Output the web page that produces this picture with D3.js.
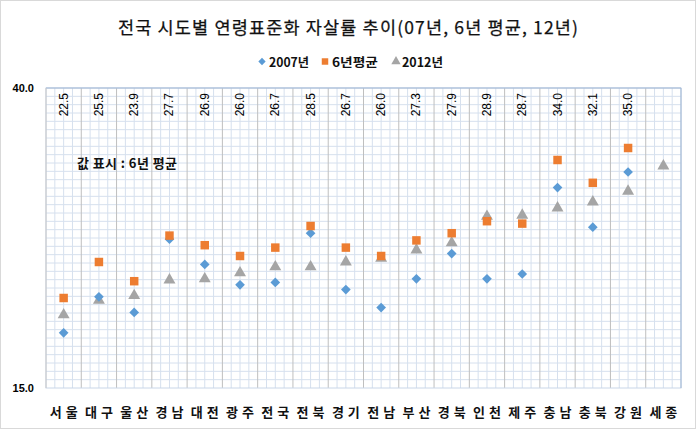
<!DOCTYPE html>
<html><head><meta charset="utf-8">
<script src="https://cdn.jsdelivr.net/npm/d3@7"></script>
<style>body{margin:0;background:#fff}svg{display:block}</style>
</head><body><div id="c"></div>
<script>
const categories = ["서울","대구","울산","경남","대전","광주","전국","전북","경기","전남","부산","경북","인천","제주","충남","충북","강원","세종"];
const y2007 = [19.6,22.6,21.3,27.4,25.3,23.6,23.8,27.9,23.2,21.7,24.1,26.2,24.1,24.5,31.7,28.4,33.0,null];
const avg6 = [22.5,25.5,23.9,27.7,26.9,26.0,26.7,28.5,26.7,26.0,27.3,27.9,28.9,28.7,34.0,32.1,35.0,null];
const y2012 = [21.1,22.3,22.7,24.0,24.1,24.6,25.1,25.1,25.5,25.8,26.5,27.1,29.3,29.4,30.0,30.5,31.4,33.5];
const yTicks = [15,40];
const seriesNames = ["2007년","6년평균","2012년"];

const W=696,H=429;
const m={l:46,r:681,t:88,b:388};
const svg=d3.select("#c").append("svg").attr("width",W).attr("height",H);
svg.append("rect").attr("x",0.5).attr("y",0.5).attr("width",W-1).attr("height",H-1).attr("fill","#fff").attr("stroke","#d9d9d9");

const x=d3.scaleBand().domain(categories).range([m.l,m.r]);
const y=d3.scaleLinear().domain([15,40]).range([m.b,m.t]);

const g=svg.append("g");
const nH=36;
d3.range(1,nH).forEach(i=>{
  const v=15+25*i/nH;
  g.append("line").attr("x1",m.l).attr("x2",m.r).attr("y1",y(v)).attr("y2",y(v)).attr("stroke","#d6e0ee").attr("stroke-width",1);
});
const bw=x.bandwidth();
categories.forEach((c,i)=>{
  [1,2,3].forEach(k=>{
    const xx=x(c)+bw*k/4;
    g.append("line").attr("x1",xx).attr("x2",xx).attr("y1",m.t).attr("y2",m.b).attr("stroke","#d6e0ee");
  });
});
categories.slice(1).forEach(c=>{
  g.append("line").attr("x1",x(c)).attr("x2",x(c)).attr("y1",m.t).attr("y2",m.b).attr("stroke","#bfbfbf");
});
g.append("rect").attr("x",m.l).attr("y",m.t).attr("width",m.r-m.l).attr("height",m.b-m.t).attr("fill","none").attr("stroke","#c9d6e8");
g.append("line").attr("x1",m.l).attr("x2",m.r).attr("y1",m.t).attr("y2",m.t).attr("stroke","#9fb6d4");
g.append("line").attr("x1",m.r).attr("x2",m.r).attr("y1",m.t).attr("y2",m.b).attr("stroke","#9fb6d4");
g.append("line").attr("x1",m.l).attr("x2",m.l).attr("y1",m.t).attr("y2",m.b).attr("stroke","#c8c8c8");

svg.selectAll(".yt").data(yTicks).enter().append("text")
  .attr("x",34).attr("y",d=>y(d)+4).attr("text-anchor","end")
  .attr("font-family","Liberation Sans, Arial").attr("font-weight","bold").attr("font-size",11).attr("fill","#000")
  .text(d=>d.toFixed(1));

svg.selectAll(".xt").data(categories).enter().append("text")
  .attr("x",d=>x(d)+bw/2+2).attr("y",417).attr("text-anchor","middle")
  .attr("font-family","Noto Sans CJK KR").attr("font-weight","bold").attr("font-size",13).attr("letter-spacing",4)
  .attr("fill","#111").text(d=>d);

svg.selectAll(".vl").data(categories.map((c,i)=>({c,v:avg6[i]})).filter(d=>d.v!=null)).enter().append("text")
  .attr("transform",d=>`translate(${x(d.c)+bw/2+4},${m.t+5}) rotate(-90)`)
  .attr("text-anchor","end")
  .attr("font-family","Liberation Sans, Arial").attr("font-size",12).attr("fill","#000")
  .text(d=>d.v.toFixed(1));

const cx=i=>x(categories[i])+bw/2;
const diamond=d3.symbol().type(d3.symbolDiamond2).size(60);
const square=d3.symbol().type(d3.symbolSquare).size(72);
const tri=d3.symbol().type(d3.symbolTriangle).size(62);

svg.selectAll(".s12").data(y2012.map((v,i)=>({v,i})).filter(d=>d.v!=null)).enter().append("path")
  .attr("d",tri).attr("transform",d=>`translate(${cx(d.i)},${y(d.v)})`).attr("fill","#a5a5a5");
svg.selectAll(".s07").data(y2007.map((v,i)=>({v,i})).filter(d=>d.v!=null)).enter().append("path")
  .attr("d",diamond).attr("transform",d=>`translate(${cx(d.i)},${y(d.v)})`).attr("fill","#5b9bd5");
svg.selectAll(".s6").data(avg6.map((v,i)=>({v,i})).filter(d=>d.v!=null)).enter().append("path")
  .attr("d",square).attr("transform",d=>`translate(${cx(d.i)},${y(d.v)})`).attr("fill","#ed7d31");

svg.append("text").attr("x",118).attr("y",34)
  .attr("font-family","Noto Sans CJK KR").attr("font-size",17.5).attr("fill","#111")
  .attr("textLength",460).attr("lengthAdjust","spacing")
  .attr("stroke","#111").attr("stroke-width",0.25)
  .text("전국 시도별 연령표준화 자살률 추이(07년, 6년 평균, 12년)");

const lg=svg.append("g");
const legendItems=[
  {sym:d3.symbol().type(d3.symbolDiamond2).size(34),col:"#5b9bd5",x:262,tx:269,w:40},
  {sym:d3.symbol().type(d3.symbolSquare).size(42),col:"#ed7d31",x:325,tx:332,w:46},
  {sym:d3.symbol().type(d3.symbolTriangle).size(38),col:"#a5a5a5",x:396,tx:402,w:41}];
legendItems.forEach((d,i)=>{
  lg.append("path").attr("d",d.sym).attr("transform",`translate(${d.x},61.5)`).attr("fill",d.col);
  lg.append("text").attr("x",d.tx).attr("y",66.5).attr("font-family","Noto Sans CJK KR").attr("font-weight","bold")
    .attr("font-size",12.5).attr("fill","#111").attr("textLength",d.w).attr("lengthAdjust","spacingAndGlyphs").text(seriesNames[i]);
});

svg.append("text").attr("x",77).attr("y",168).attr("font-family","Noto Sans CJK KR").attr("font-weight","bold")
  .attr("font-size",13).attr("fill","#111").attr("textLength",100).attr("lengthAdjust","spacing").text("값 표시 : 6년 평균");
</script></body></html>
